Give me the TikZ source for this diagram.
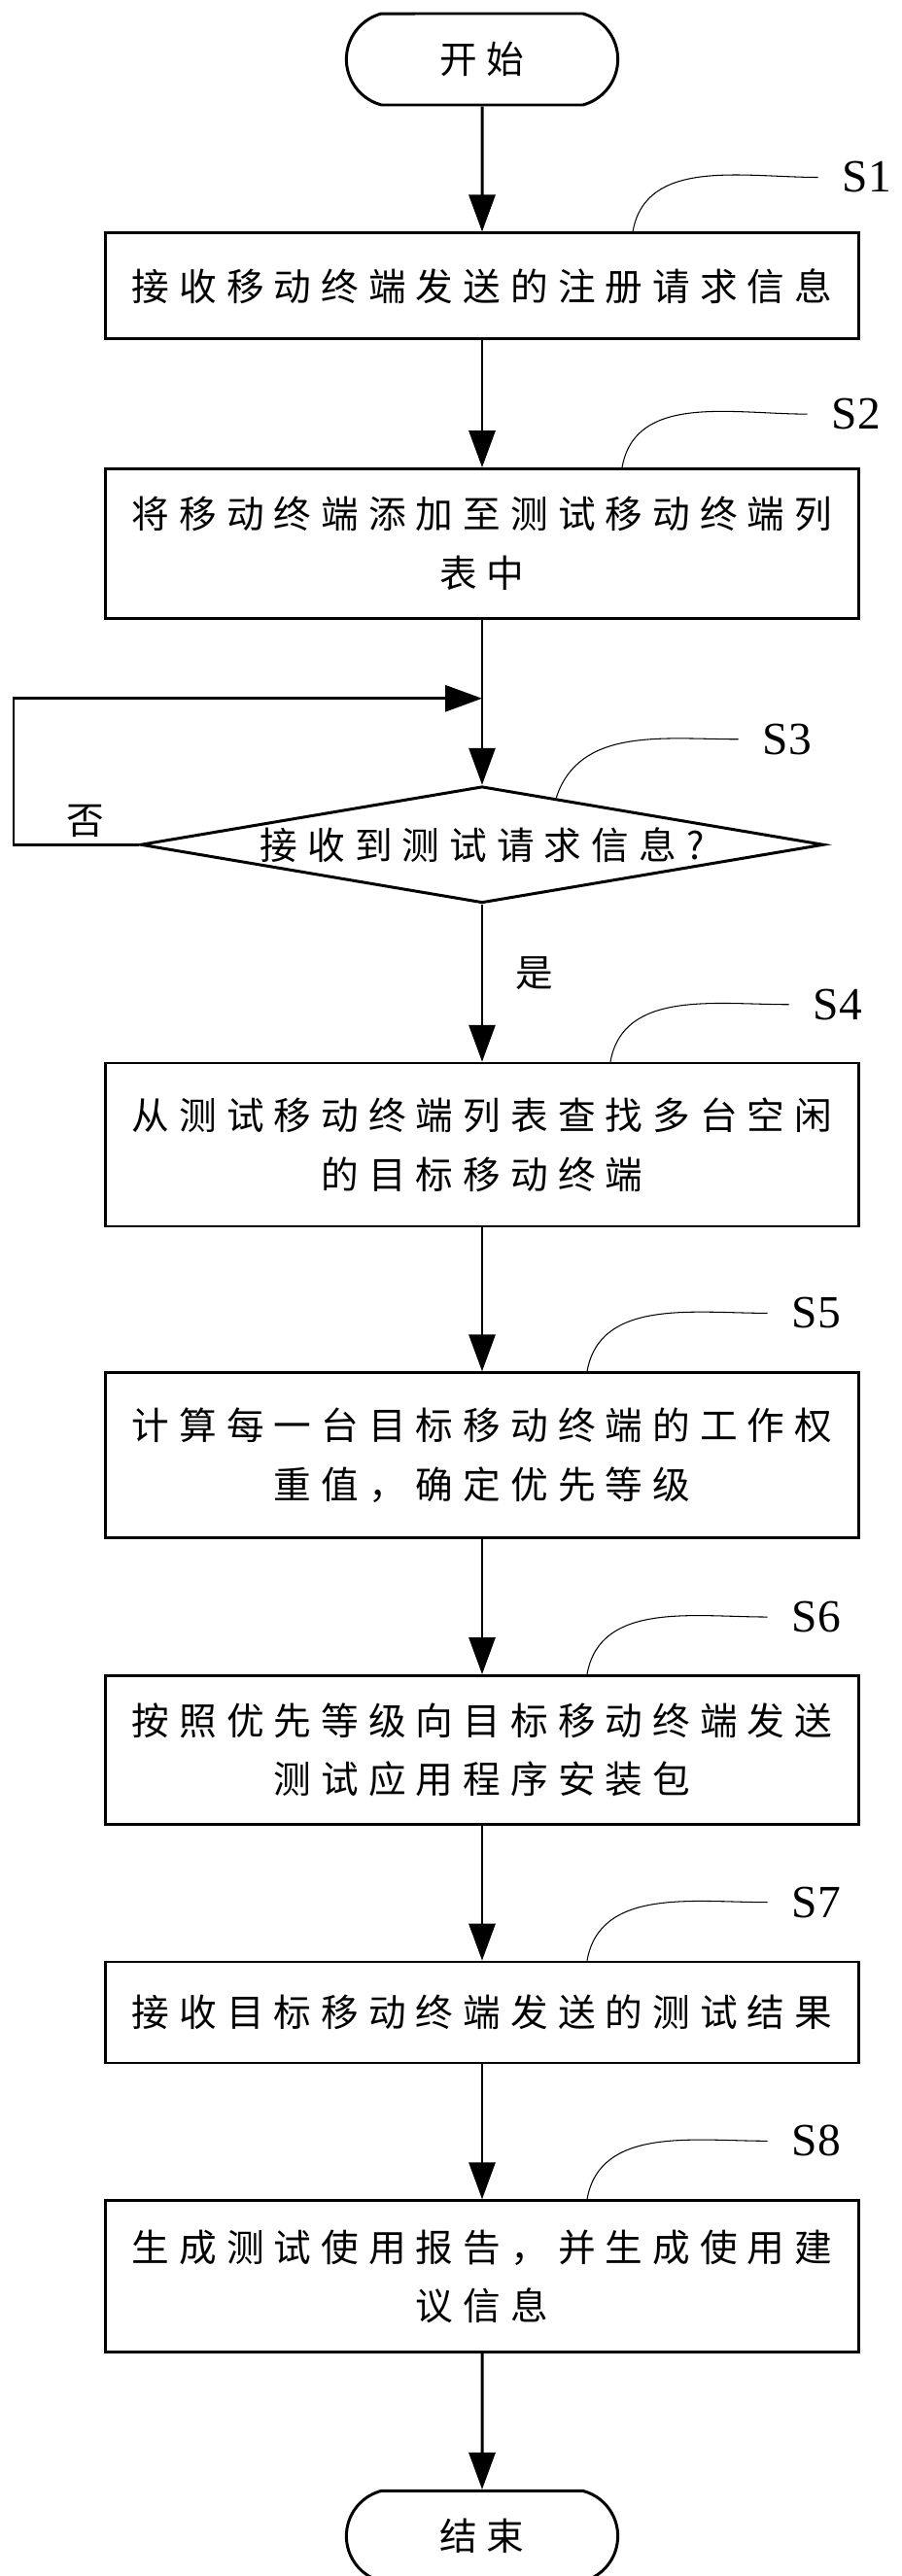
\documentclass[tikz,border=0pt]{standalone}
\usepackage{fontspec}
\setmainfont{Liberation Serif}
\newfontfamily\cjk[LetterSpace=26]{Noto Sans CJK SC}
\usepackage{tikz}
\usetikzlibrary{shapes.geometric, shapes.misc, arrows.meta, positioning, calc}

\begin{document}
\begin{tikzpicture}[
    stepbox/.style={draw=black, rectangle, minimum width=15.5cm, line width=1.5pt, inner sep=0pt, align=center, font=\cjk\fontsize{22}{34.4}\selectfont},
    terminal/.style={draw=black, rounded rectangle, rounded rectangle arc length=150, minimum width=5.82cm, line width=1.7pt, font=\cjk\fontsize{22}{34.4}\selectfont},
    decision/.style={draw=black, diamond, aspect=5.86, minimum width=14.06cm, minimum height=2.4cm, line width=1.7pt, inner sep=0pt, font=\cjk\fontsize{22}{34.4}\selectfont},
    arrow/.style={-{Triangle[length=0.76cm, width=0.54cm]}, line width=1.7pt},
    steptag/.style={font=\fontsize{27}{30}\selectfont, inner xsep=0.5cm, inner ysep=0pt},
    leader/.style={line width=0.6pt},
    answer/.style={font=\cjk\fontsize{22}{26}\selectfont}
]
\useasboundingbox (0,0) rectangle (18.56,-53.02);

\node[terminal, minimum height=1.88cm] (start) at (9.92,-1.22) {开始};
\node[stepbox, minimum height=2.18cm, below=2.58cm of start] (s1) {接收移动终端发送的注册请求信息};
\node[stepbox, minimum height=3.08cm, below=2.62cm of s1] (s2) {将移动终端添加至测试移动终端列\\表中};
\node[decision, below=3.4cm of s2] (s3) {接收到测试请求信息?};
\node[stepbox, minimum height=3.36cm, below=3.24cm of s3] (s4) {从测试移动终端列表查找多台空闲\\的目标移动终端};
\node[stepbox, minimum height=3.4cm, below=2.96cm of s4] (s5) {计算每一台目标移动终端的工作权\\重值，确定优先等级};
\node[stepbox, minimum height=3.06cm, below=2.78cm of s5] (s6) {按照优先等级向目标移动终端发送\\测试应用程序安装包};
\node[stepbox, minimum height=2.08cm, below=2.78cm of s6] (s7) {接收目标移动终端发送的测试结果};
\node[stepbox, minimum height=3.12cm, below=2.78cm of s7] (s8) {生成测试使用报告，并生成使用建\\议信息};
\node[terminal, minimum height=1.86cm, below=2.8cm of s8] (end) {结束};

\coordinate[below=1.62cm of s2] (join);

\draw[arrow] (start) -- (s1);
\draw[arrow] (s1) -- (s2);
\draw[arrow] (s2) -- (s3);
\draw[arrow] (s3) -- node[answer, right=0.55cm, pos=0.44] {是} (s4);
\draw[arrow] (s3.west) -- node[answer, above, pos=0.43] {否} ++(-2.58,0) |- (join);
\draw[arrow] (s4) -- (s5);
\draw[arrow] (s5) -- (s6);
\draw[arrow] (s6) -- (s7);
\draw[arrow] (s7) -- (s8);
\draw[arrow] (s8) -- (end);

\node[steptag] (t1) at ([xshift=7.92cm, yshift=1.12cm]s1.north) {S1};
\node[steptag] (t2) at ([xshift=7.7cm, yshift=1.1cm]s2.north) {S2};
\node[steptag] (t3) at ([xshift=6.28cm, yshift=0.94cm]s3.north) {S3};
\node[steptag] (t4) at ([xshift=7.32cm, yshift=1.18cm]s4.north) {S4};
\node[steptag] (t5) at ([xshift=6.88cm, yshift=1.2cm]s5.north) {S5};
\node[steptag] (t6) at ([xshift=6.88cm, yshift=1.18cm]s6.north) {S6};
\node[steptag] (t7) at ([xshift=6.88cm, yshift=1.2cm]s7.north) {S7};
\node[steptag] (t8) at ([xshift=6.88cm, yshift=1.2cm]s8.north) {S8};

\draw[leader] ([xshift=3.1cm]s1.north) to[out=80, in=180] (t1.west);
\draw[leader] ([xshift=2.88cm]s2.north) to[out=80, in=180] (t2.west);
\draw[leader] ($(s3.north)!0.216!(s3.east)$) to[out=72, in=180] (t3.west);
\draw[leader] ([xshift=2.64cm]s4.north) to[out=80, in=180] (t4.west);
\draw[leader] ([xshift=2.16cm]s5.north) to[out=80, in=180] (t5.west);
\draw[leader] ([xshift=2.16cm]s6.north) to[out=80, in=180] (t6.west);
\draw[leader] ([xshift=2.16cm]s7.north) to[out=80, in=180] (t7.west);
\draw[leader] ([xshift=2.16cm]s8.north) to[out=80, in=180] (t8.west);
\end{tikzpicture}
\end{document}
